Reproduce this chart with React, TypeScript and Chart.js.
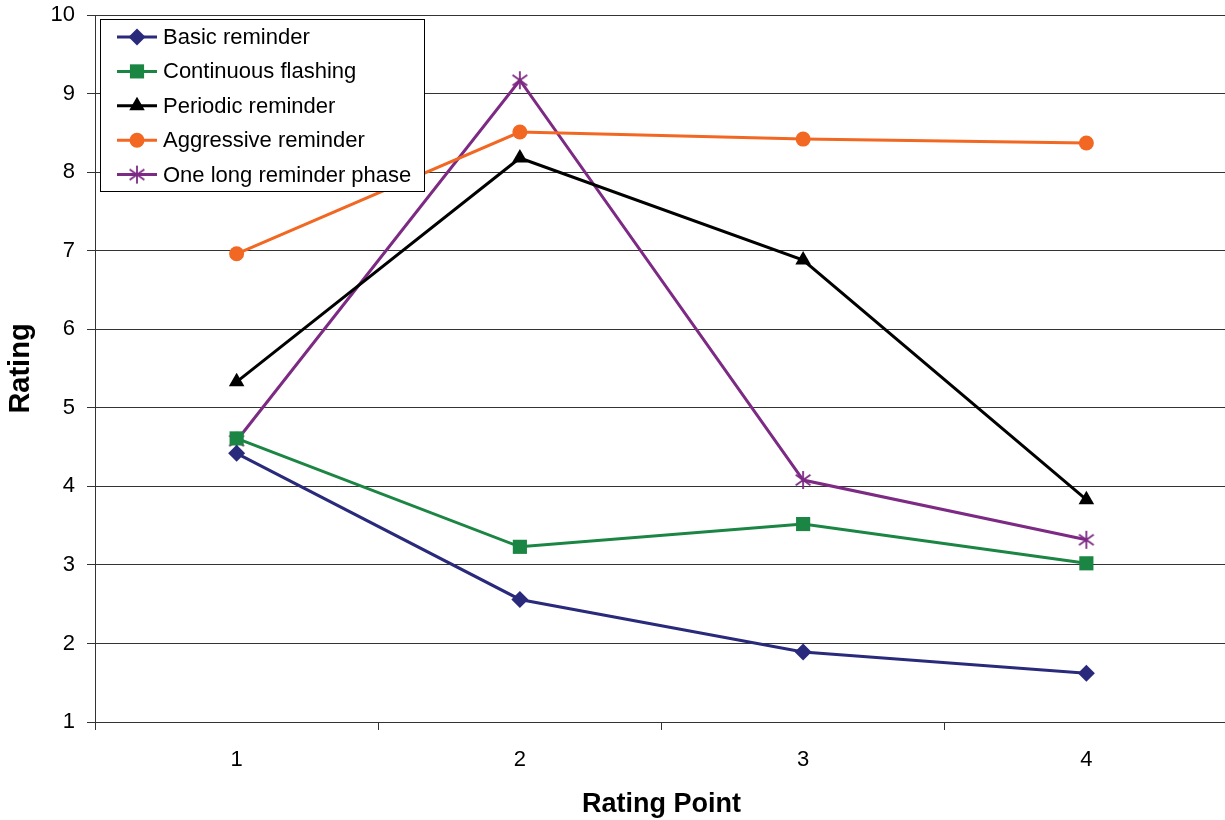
import React, { useEffect, useRef } from 'react';
import { Chart, registerables } from 'chart.js';
import { drawPoint } from 'chart.js/helpers';

Chart.register(...registerables);

// Ratings collected at each of the four rating points
const ratingPoints = ['1', '2', '3', '4'];
const basicReminder = [4.42, 2.56, 1.89, 1.62];
const continuousFlashing = [4.61, 3.23, 3.52, 3.02];
const periodicReminder = [5.33, 8.18, 6.88, 3.83];
const aggressiveReminder = [6.96, 8.51, 8.42, 8.37];
const oneLongReminderPhase = [4.58, 9.17, 4.08, 3.32];

const seriesLabels = [
  'Basic reminder',
  'Continuous flashing',
  'Periodic reminder',
  'Aggressive reminder',
  'One long reminder phase',
];

// Rating axis range
const ratingMin = 1;
const ratingMax = 10;
const ratingStep = 1;

const FONT = '"Liberation Sans", Arial, sans-serif';

const NAVY = '#2a2a7c';
const GREEN = '#1b8543';
const BLACK = '#000000';
const ORANGE = '#f26722';
const PURPLE = '#7d2a84';

// Six-armed asterisk marker
function makeAsterisk(color: string): HTMLCanvasElement {
  const c = document.createElement('canvas');
  c.width = 20;
  c.height = 20;
  const g = c.getContext('2d') as CanvasRenderingContext2D;
  g.strokeStyle = color;
  g.lineWidth = 1.8;
  g.lineCap = 'butt';
  const cx = 10;
  const cy = 10;
  const r = 9;
  g.beginPath();
  [90, 35, 145].forEach((deg) => {
    const a = (deg * Math.PI) / 180;
    g.moveTo(cx - Math.cos(a) * r, cy - Math.sin(a) * r);
    g.lineTo(cx + Math.cos(a) * r, cy + Math.sin(a) * r);
  });
  g.stroke();
  return c;
}

// Boxed legend drawn inside the upper-left corner of the plot area
const insideLegend = {
  id: 'insideLegend',
  afterDraw(chart: any) {
    const { ctx, chartArea } = chart;
    const x0 = Math.round(chartArea.left) + 5;
    const y0 = Math.round(chartArea.top) + 4;
    const w = 325;
    const h = 173;
    ctx.save();
    ctx.fillStyle = '#ffffff';
    ctx.fillRect(x0, y0, w, h);
    ctx.strokeStyle = '#000000';
    ctx.lineWidth = 1;
    ctx.strokeRect(x0 + 0.5, y0 + 0.5, w - 1, h - 1);
    chart.data.datasets.forEach((ds: any, i: number) => {
      const cy = y0 + 18 + i * 34.4;
      ctx.strokeStyle = ds.borderColor;
      ctx.lineWidth = ds.borderWidth;
      ctx.beginPath();
      ctx.moveTo(x0 + 17, cy);
      ctx.lineTo(x0 + 57, cy);
      ctx.stroke();
      ctx.fillStyle = ds.pointBackgroundColor;
      ctx.strokeStyle = ds.pointBorderColor;
      ctx.lineWidth = ds.pointBorderWidth;
      drawPoint(
        ctx,
        { pointStyle: ds.pointStyle, radius: ds.pointRadius, rotation: 0, borderWidth: ds.pointBorderWidth },
        x0 + 37,
        cy
      );
      ctx.fillStyle = '#000000';
      ctx.font = `22px ${FONT}`;
      ctx.textAlign = 'left';
      ctx.textBaseline = 'middle';
      ctx.fillText(ds.label, x0 + 63, cy + 1);
    });
    ctx.restore();
  },
};

export default function App() {
  const canvasRef = useRef<HTMLCanvasElement | null>(null);

  useEffect(() => {
    const canvas = canvasRef.current;
    if (!canvas) return;
    const star = makeAsterisk(PURPLE);

    const series = [
      { data: basicReminder, color: NAVY, style: 'rectRot', radius: 8.5 },
      { data: continuousFlashing, color: GREEN, style: 'rect', radius: 10 },
      { data: periodicReminder, color: BLACK, style: 'triangle', radius: 9 },
      { data: aggressiveReminder, color: ORANGE, style: 'circle', radius: 7.5 },
      { data: oneLongReminderPhase, color: PURPLE, style: star, radius: 9 },
    ];

    const chart = new Chart(canvas, {
      type: 'line',
      data: {
        labels: ratingPoints,
        datasets: series.map((s, i) => ({
          label: seriesLabels[i],
          data: s.data,
          borderColor: s.color,
          backgroundColor: s.color,
          borderWidth: 3,
          pointStyle: s.style as any,
          pointRadius: s.radius,
          pointBackgroundColor: s.color,
          pointBorderColor: s.color,
          pointBorderWidth: 0,
          tension: 0,
          fill: false,
        })),
      },
      plugins: [insideLegend],
      options: {
        responsive: false,
        animation: false,
        devicePixelRatio: 1,
        events: [],
        layout: { padding: { top: 15, right: 0, left: 0, bottom: 0 } },
        plugins: {
          legend: { display: false },
          tooltip: { enabled: false },
          title: { display: false },
        },
        scales: {
          x: {
            type: 'category',
            offset: true,
            grid: {
              offset: true,
              drawOnChartArea: false,
              drawTicks: true,
              tickLength: 8,
              color: '#333333',
              lineWidth: 1,
            },
            border: { display: true, color: '#333333', width: 1 },
            ticks: {
              color: '#000000',
              font: { family: FONT, size: 22 },
              padding: 17,
              maxRotation: 0,
            },
            title: {
              display: true,
              text: 'Rating Point',
              color: '#000000',
              font: { family: FONT, size: 27, weight: 'bold', lineHeight: 1 },
              padding: { top: 0, bottom: 2 },
            },
            afterFit(scale: any) {
              scale.height = 98;
            },
          },
          y: {
            min: ratingMin,
            max: ratingMax,
            grid: {
              color: '#333333',
              lineWidth: 1,
              drawTicks: true,
              tickLength: 8,
            },
            border: { display: true, color: '#333333', width: 1 },
            ticks: {
              stepSize: ratingStep,
              color: '#000000',
              font: { family: FONT, size: 22, lineHeight: 0.25 },
              padding: 12,
            },
            title: {
              display: true,
              text: 'Rating',
              color: '#000000',
              font: { family: FONT, size: 29, weight: 'bold', lineHeight: 1 },
              padding: { top: 6, bottom: 0 },
            },
            afterFit(scale: any) {
              scale.width = 95;
            },
          },
        },
      },
    });

    return () => chart.destroy();
  }, []);

  return (
    <div
      style={{
        position: 'absolute',
        left: 0,
        top: 0,
        width: 1225,
        height: 820,
        overflow: 'hidden',
        background: '#ffffff',
      }}
    >
      <canvas ref={canvasRef} width={1238} height={820} style={{ display: 'block' }} />
    </div>
  );
}
